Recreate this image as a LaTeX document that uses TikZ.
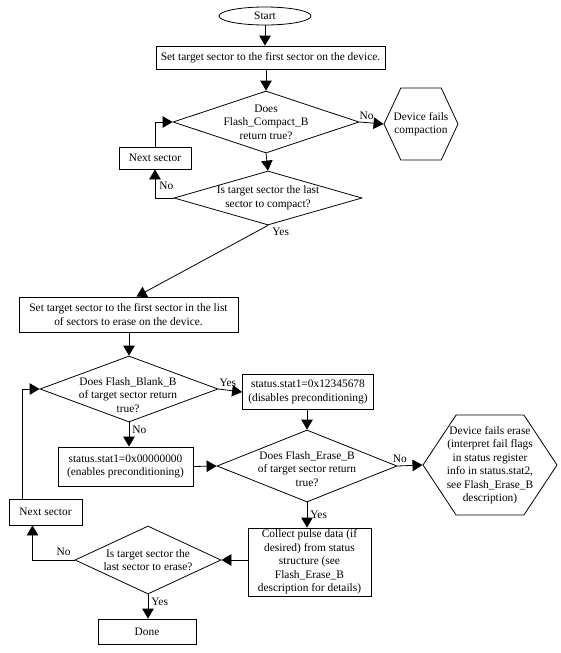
\documentclass[tikz,border=0pt]{standalone}
\usepackage{fontspec}
\setmainfont{Liberation Serif}
\usetikzlibrary{arrows.meta,positioning,calc,shapes.geometric,shapes.symbols}
\tikzset{
  flowarr/.style={-{Triangle[length=10pt,width=11.5pt]}, line width=0.8pt},
  procbox/.style={draw, line width=0.8pt, inner sep=0pt, align=center},
  decis/.style={draw, diamond, line width=0.8pt, inner sep=0pt},
  termin/.style={draw, ellipse, line width=0.8pt, inner sep=0pt},
  hexa/.style={draw, signal, signal to=west and east, line width=0.8pt, inner sep=0pt},
  txt/.style={align=center, inner sep=0pt},
  lbl/.style={inner sep=0pt},
}

\begin{document}
\begin{tikzpicture}[x=1pt,y=-1pt,font=\fontsize{11.4}{13.5}\selectfont]
  \useasboundingbox (0,0) rectangle (561,653);
  % compaction part
  \node[termin, minimum width=92pt, minimum height=18pt] (start) at (265,16) {Start};
  \node[procbox, minimum width=229pt, minimum height=23pt] (setfirst) at (270.5,57.5)
    {Set target sector to the first sector on the device.};
  \node[decis, minimum width=186pt, minimum height=62pt] (compok) at (266,122) {};
  \node[txt] at (compok) {Does\\Flash\_Compact\_B\\return true?};
  \node[hexa, minimum width=74pt, minimum height=72pt, signal pointer angle=130] (compfail) at (421,124) {};
  \node[txt] at (compfail) {Device fails\\compaction};
  \node[procbox, minimum width=72pt, minimum height=22pt] (nextc) at (155,158) {Next sector};
  \node[decis, minimum width=188pt, minimum height=54pt] (lastc) at (268,198) {};
  \node[txt] at (lastc) {Is target sector the last\\sector to compact?};
  % erase part
  \node[procbox, minimum width=219pt, minimum height=35pt] (seterase) at (128.5,314.5)
    {Set target sector to the first sector in the list\\of sectors to erase on the device.};
  \node[decis, minimum width=178pt, minimum height=66pt] (blankok) at (129,389) {};
  \node[txt] at (128,395) {Does Flash\_Blank\_B\\of target sector return\\true?};
  \node[procbox, minimum width=131pt, minimum height=35pt] (nopre) at (308,392)
    {status.stat1=0x12345678\\(disables preconditioning)};
  \node[procbox, minimum width=135pt, minimum height=39pt] (withpre) at (125.5,466.5)
    {status.stat1=0x00000000\\(enables preconditioning)};
  \node[decis, minimum width=180pt, minimum height=72pt] (eraseok) at (307,466) {};
  \node[txt] at (307,469) {Does Flash\_Erase\_B\\of target sector return\\true?};
  \node[hexa, minimum width=134pt, minimum height=100pt, signal pointer angle=113] (erasefail) at (490,465) {};
  \node[txt] at (erasefail) {Device fails erase\\(interpret fail flags\\in status register\\info in status.stat2,\\see Flash\_Erase\_B\\description)};
  \node[procbox, minimum width=123pt, minimum height=68pt] (pulse) at (309.5,562)
    {Collect pulse data (if\\desired) from status\\structure (see\\Flash\_Erase\_B\\description for details)};
  \node[decis, minimum width=146pt, minimum height=68pt] (laste) at (148,560) {};
  \node[txt] at (laste) {Is target sector the\\last sector to erase?};
  \node[procbox, minimum width=73pt, minimum height=26pt] (nexte) at (45.5,512) {Next sector};
  \node[procbox, minimum width=98pt, minimum height=25pt] (done) at (147,631.5) {Done};
  % connectors
  \draw[flowarr] (start.south) -- (start.south |- setfirst.north);
  \draw[flowarr] (setfirst.south -| compok.north) -- (compok.north);
  \draw[flowarr] (compok.east) -- (compfail.west) node[lbl, pos=0.3, above=3pt] {No};
  \draw[flowarr] (compok.south) -- (lastc.north);
  \draw[flowarr] (lastc.west) -| (nextc.south) node[lbl, pos=0.72, right=4pt] {No};
  \draw[flowarr] (nextc.north) |- (compok.west);
  \draw[flowarr] (lastc.south) -- ([xshift=8pt]seterase.north) node[lbl, pos=0, below right=2pt and 4pt] {Yes};
  \draw[flowarr] (seterase.south -| blankok.north) -- (blankok.north);
  \draw[flowarr] (blankok.east) -- (nopre.west) node[lbl, pos=0.4, above=3pt] {Yes};
  \draw[flowarr] (blankok.south) -- (blankok.south |- withpre.north) node[lbl, pos=0.3, right=3pt] {No};
  \draw[flowarr] (nopre.south -| eraseok.north) -- (eraseok.north);
  \draw[flowarr] (withpre.east) -- (eraseok.west);
  \draw[flowarr] (eraseok.east) -- (erasefail.west) node[lbl, pos=0.1, above=3pt] {No};
  \draw[flowarr] (eraseok.south) -- (eraseok.south |- pulse.north) node[lbl, pos=0.5, right=3pt] {Yes};
  \draw[flowarr] (laste.east -| pulse.west) -- (laste.east);
  \draw[flowarr] (laste.west) -| ([xshift=-13pt]nexte.south) node[lbl, pos=0.13, above=4pt] {No};
  \draw[flowarr] ([xshift=-23pt]nexte.north) |- (blankok.west);
  \draw[flowarr] (laste.south) -- (laste.south |- done.north) node[lbl, pos=0.3, right=3pt] {Yes};
\end{tikzpicture}
\end{document}
